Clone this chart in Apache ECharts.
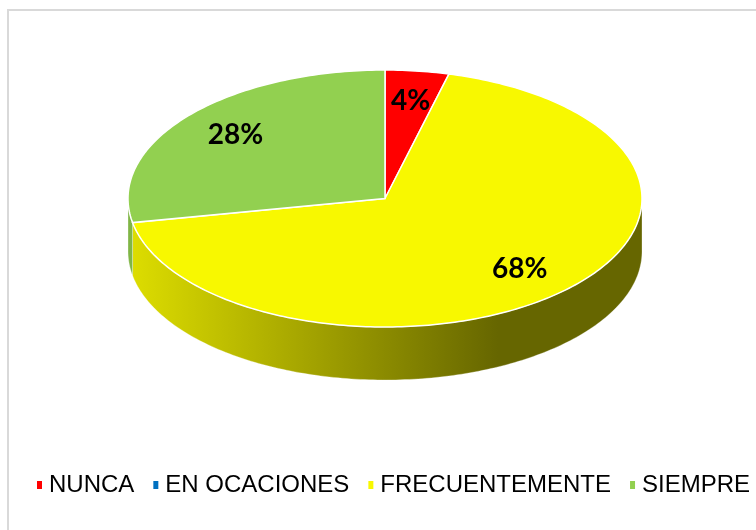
<!DOCTYPE html>
<html>
<head>
<meta charset="utf-8">
<script src="https://cdn.jsdelivr.net/npm/echarts@6/dist/echarts.min.js"></script>
<style>
  html, body { margin: 0; padding: 0; background: #fff; }
  #chart { width: 756px; height: 530px; }
</style>
</head>
<body>
<div id="chart"></div>
<script>
// datos (porcentajes)
var categories = ['NUNCA', 'EN OCACIONES', 'FRECUENTEMENTE', 'SIEMPRE'];
var values = [4, 0, 68, 28];
var topColors = ['#ff0000', '#0070c0', '#f8f800', '#92d050'];
// color del costado: claro a la izquierda, oscuro a la derecha
var sideLight = ['#e00000', '#005fa3', '#dede00', '#80b646'];
var sideDark = ['#7a0000', '#003a66', '#666600', '#4a6e28'];

var chartDom = document.getElementById('chart');
var myChart = echarts.init(chartDom);

// geometria del pastel 3D
var cx = 385, cy = 198.5, rx = 257, ry = 128.5, depth = 53;
var total = values.reduce(function (a, b) { return a + b; }, 0);

function pt(a, dy) {
  return [cx + rx * Math.sin(a), cy - ry * Math.cos(a) + (dy || 0)];
}
function arc(a1, a2, dy) {
  var pts = [];
  var n = Math.max(2, Math.ceil((a2 - a1) / (Math.PI / 180)));
  for (var k = 0; k <= n; k++) {
    pts.push(pt(a1 + (a2 - a1) * k / n, dy));
  }
  return pts;
}

function makeRender(i) {
  return function (params, api) {
    var v = api.value(0);
    if (!v) return { type: 'group', children: [] };
    var before = 0;
    for (var j = 0; j < i; j++) before += values[j];
    var a1 = before / total * Math.PI * 2;
    var a2 = (before + v) / total * Math.PI * 2;
    var children = [];

    // costado visible (mitad frontal)
    var s1 = Math.max(a1, Math.PI / 2), s2 = Math.min(a2, Math.PI * 1.5);
    if (s2 > s1) {
      var side = arc(s1, s2, 0).concat(arc(s1, s2, depth).reverse());
      children.push({
        type: 'polygon',
        z2: 1,
        shape: { points: side },
        style: {
          fill: {
            type: 'linear', global: true,
            x: cx - rx, y: 0, x2: cx + rx, y2: 0,
            colorStops: [
              { offset: 0, color: sideLight[i] },
              { offset: 0.72, color: sideDark[i] },
              { offset: 1, color: sideDark[i] }
            ]
          },
          stroke: 'rgba(255,255,255,0.6)',
          lineWidth: 0.5
        }
      });
    }

    // cara superior
    children.push({
      type: 'polygon',
      z2: 5,
      shape: { points: [[cx, cy]].concat(arc(a1, a2, 0)) },
      style: { fill: topColors[i], stroke: '#ffffff', lineWidth: 1.5 }
    });

    // etiqueta
    var mid = (a1 + a2) / 2;
    var lp = [cx + rx * 0.76 * Math.sin(mid), cy - ry * 0.76 * Math.cos(mid)];
    children.push({
      type: 'text',
      z2: 10,
      x: lp[0] + 1,
      y: lp[1] - 1,
      style: {
        text: v + '%',
        font: 'bold 28px Lato',
        fill: '#000000',
        align: 'center',
        verticalAlign: 'middle'
      }
    });
    return { type: 'group', children: children };
  };
}

var seriesList = categories.map(function (name, i) {
  return {
    name: name,
    type: 'custom',
    coordinateSystem: 'none',
    renderItem: makeRender(i),
    itemStyle: { color: topColors[i] },
    silent: true,
    data: [[values[i]]]
  };
});

var option = {
  animation: false,
  backgroundColor: '#ffffff',
  graphic: [{
    type: 'polyline',
    shape: { points: [[8, 540], [8, 10], [760, 10]] },
    style: { stroke: '#d9d9d9', lineWidth: 2, fill: null }
  }],
  legend: {
    left: 32,
    top: 468,
    icon: 'rect',
    itemWidth: 5,
    itemHeight: 8,
    itemGap: 19,
    textStyle: {
      fontFamily: 'Liberation Sans',
      fontSize: 24,
      color: '#000000',
      padding: [0, 0, 0, 2]
    },
    data: categories
  },
  series: seriesList
};
myChart.setOption(option);
</script>
</body>
</html>
